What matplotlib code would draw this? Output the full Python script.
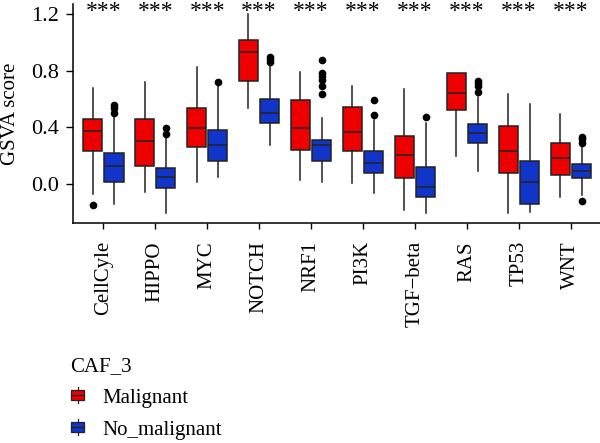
import matplotlib
matplotlib.use("Agg")
import matplotlib.pyplot as plt
from matplotlib.legend_handler import HandlerPatch
from matplotlib.patches import Patch, Rectangle
from matplotlib.lines import Line2D
import matplotlib.transforms as mtransforms

plt.rcParams['font.family'] = ['Liberation Serif', 'DejaVu Serif']

pathways = ["CellCyle", "HIPPO", "MYC", "NOTCH", "NRF1", "PI3K", "TGF\u2212beta", "RAS", "TP53", "WNT"]
groups = ["Malignant", "No_malignant"]
colors = ["#EE0000", "#1035C8"]

# box stats: whisker low, q1, median, q3, whisker high
mal_whislo = [-0.073, -0.054, 0.016, 0.534, 0.028, 0.005, -0.183, 0.200, -0.207, -0.090]
mal_q1     = [0.235, 0.127, 0.263, 0.727, 0.240, 0.235, 0.045, 0.522, 0.080, 0.064]
mal_med    = [0.376, 0.300, 0.397, 0.929, 0.393, 0.369, 0.207, 0.644, 0.235, 0.186]
mal_q3     = [0.460, 0.460, 0.534, 1.016, 0.593, 0.546, 0.339, 0.781, 0.409, 0.292]
mal_whishi = [0.680, 0.717, 0.828, 1.200, 0.790, 0.694, 0.668, 0.785, 0.633, 0.492]
mal_fliers = [[-0.148], [], [], [], [], [], [], [], [], []]

non_whislo = [-0.141, -0.207, 0.047, 0.275, 0.012, -0.066, -0.207, 0.094, -0.195, -0.078]
non_q1     = [0.016, -0.030, 0.165, 0.428, 0.162, 0.080, -0.094, 0.287, -0.141, 0.040]
non_med    = [0.125, 0.047, 0.275, 0.499, 0.273, 0.150, -0.019, 0.358, 0.016, 0.094]
non_q3     = [0.216, 0.115, 0.381, 0.598, 0.310, 0.233, 0.120, 0.423, 0.165, 0.141]
non_whishi = [0.487, 0.327, 0.700, 0.840, 0.464, 0.452, 0.428, 0.616, 0.565, 0.275]
non_fliers = [[0.50, 0.535, 0.56], [0.35, 0.397], [0.722], [0.861, 0.88, 0.898],
              [0.633, 0.692, 0.734, 0.762, 0.786, 0.875], [0.485, 0.593], [0.47],
              [0.647, 0.69, 0.71, 0.729], [], [-0.12, 0.292, 0.315, 0.334]]

signif = ["***"] * 10


def make_stats(lo, q1, med, q3, hi, fl):
    return [dict(whislo=a, q1=b, med=c, q3=d, whishi=e, fliers=f)
            for a, b, c, d, e, f in zip(lo, q1, med, q3, hi, fl)]


series = [
    make_stats(mal_whislo, mal_q1, mal_med, mal_q3, mal_whishi, mal_fliers),
    make_stats(non_whislo, non_q1, non_med, non_q3, non_whishi, non_fliers),
]

fig = plt.figure(figsize=(6, 4.43), dpi=100)
ax = fig.add_axes([0.121, 0.4966, 0.879, 0.4944])

x = list(range(1, len(pathways) + 1))
offsets = [-0.205, 0.205]
for stats, off, col in zip(series, offsets, colors):
    ax.bxp(stats, positions=[p + off for p in x], widths=0.37, patch_artist=True,
           showcaps=False,
           boxprops=dict(facecolor=col, edgecolor="#222222", linewidth=1.1),
           medianprops=dict(color="#222222", linewidth=1.1),
           whiskerprops=dict(color="#222222", linewidth=1.1),
           flierprops=dict(marker="o", markerfacecolor="black", markeredgecolor="black",
                           markersize=4.5))

ax.set_xlim(0.41, 10.56)
ax.set_ylim(-0.275, 1.27)
ax.set_xticks(x)
ax.set_xticklabels(pathways, rotation=90, fontsize=15)
ax.set_yticks([0.0, 0.4, 0.8, 1.2])
ax.set_yticklabels(["0.0", "0.4", "0.8", "1.2"], fontsize=16)
ax.tick_params(axis="x", length=4, width=1, pad=9)
ax.tick_params(axis="y", length=5, width=1, pad=5)
ax.set_ylabel("GSVA score", fontsize=15, labelpad=8)
for s in ["top", "right"]:
    ax.spines[s].set_visible(False)
for s in ["left", "bottom"]:
    ax.spines[s].set_linewidth(1.1)

trans = mtransforms.blended_transform_factory(ax.transData, ax.transAxes)
for xi, s in zip(x, signif):
    ax.text(xi, 1.012, s, transform=trans, ha="center", va="top", fontsize=17)


class HandlerBox(HandlerPatch):
    def create_artists(self, legend, orig_handle, xdescent, ydescent, width, height, fontsize, trans):
        cx = -xdescent + width / 2
        cy = -ydescent + height / 2
        w, h = width * 0.85, height * 0.75
        whisk = Line2D([cx, cx], [cy - height * 0.6, cy + height * 0.6], color="#222222", lw=0.9)
        rect = Rectangle((cx - w / 2, cy - h / 2), w, h, facecolor=orig_handle.get_facecolor(),
                         edgecolor="#222222", lw=0.9)
        med = Line2D([cx - w / 2, cx + w / 2], [cy, cy], color="#222222", lw=0.9)
        for a in (whisk, rect, med):
            a.set_transform(trans)
        return [whisk, rect, med]


handles = [Patch(facecolor=c, label=g) for c, g in zip(colors, groups)]
leg = fig.legend(handles=handles, loc="upper left", bbox_to_anchor=(0.085, 1 - 338 / 443),
                 frameon=False, fontsize=15, title="CAF_3", title_fontsize=15,
                 handlelength=0.75, handleheight=0.6, handletextpad=0.8, labelspacing=0.62,
                 handler_map={Patch: HandlerBox()})
leg._legend_box.align = "left"

fig.savefig("out.png", dpi=100)
